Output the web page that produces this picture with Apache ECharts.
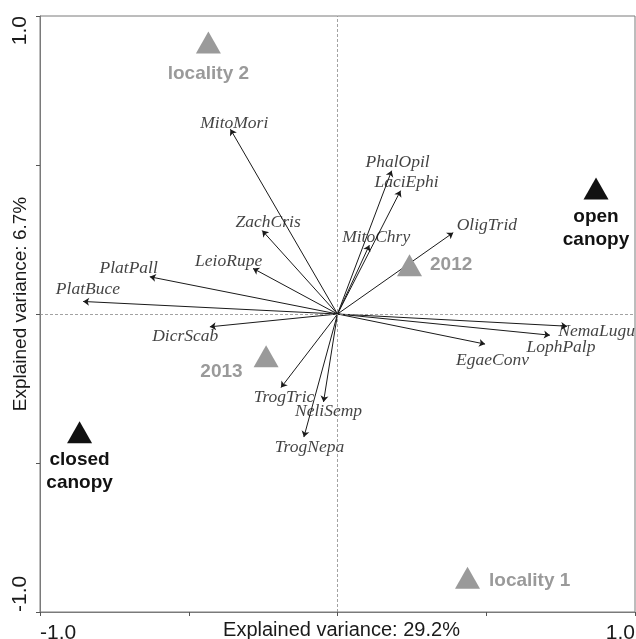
<!DOCTYPE html>
<html>
<head>
<meta charset="utf-8">
<script src="https://cdn.jsdelivr.net/npm/echarts@6/dist/echarts.min.js"></script>
<style>
  html, body { margin: 0; padding: 0; background: #fff; }
  #chart { width: 636px; height: 639px; }
</style>
</head>
<body>
<div id="chart"></div>
<script>
// Species response arrows (RDA biplot scores, axis 1 / axis 2)
const speciesNames = ['MitoMori', 'ZachCris', 'LeioRupe', 'PlatPall', 'PlatBuce', 'DicrScab',
  'PhalOpil', 'LaciEphi', 'MitoChry', 'OligTrid', 'NemaLugu', 'LophPalp', 'EgaeConv',
  'TrogTric', 'NeliSemp', 'TrogNepa'];
const arrowX = [-0.360, -0.253, -0.284, -0.631, -0.855, -0.429, 0.182, 0.212, 0.107, 0.389,
  0.772, 0.714, 0.496, -0.190, -0.047, -0.113];
const arrowY = [0.620, 0.280, 0.153, 0.125, 0.042, -0.043, 0.481, 0.414, 0.231, 0.273,
  -0.041, -0.071, -0.101, -0.247, -0.295, -0.413];
// Text positions for the species names
const labelX = [-0.347, -0.233, -0.366, -0.702, -0.839, -0.512, 0.202, 0.232, 0.130, 0.502,
  0.871, 0.751, 0.521, -0.180, -0.030, -0.094];
const labelY = [0.641, 0.309, 0.177, 0.154, 0.083, -0.075, 0.510, 0.440, 0.258, 0.298,
  -0.058, -0.112, -0.155, -0.280, -0.327, -0.448];

// Centroids of the explanatory factor levels
const centroidNames = ['locality 2', 'open canopy', '2012', '2013', 'closed canopy', 'locality 1'];
const centroidX = [-0.434, 0.869, 0.242, -0.240, -0.867, 0.437];
const centroidY = [0.911, 0.421, 0.164, -0.142, -0.397, -0.885];
const centroidFactor = ['locality', 'canopy', 'year', 'year', 'canopy', 'locality'];

// Axes
const axisTicks = [-1, -0.5, 0, 0.5, 1];
const xTickLabels = { '-1': '-1.0', '1': '1.0' };
const yTickLabels = { '-1': '-1.0', '1': '1.0' };
const xTitle = 'Explained variance: 29.2%';
const yTitle = 'Explained variance: 6.7%';

const GREY = '#9a9a9a';
const DARK = '#111111';
const factorColor = { canopy: DARK, locality: GREY, year: GREY };

const centroidLabel = {
  'locality 2':    { position: 'bottom', distance: 9, align: 'center' },
  'open canopy':   { position: 'bottom', distance: 6, align: 'center' },
  '2012':          { position: 'right',  distance: 8 },
  '2013':          { position: 'left',   distance: 11, offset: [0, 15] },
  'closed canopy': { position: 'bottom', distance: 5, align: 'center' },
  'locality 1':    { position: 'right',  distance: 9, offset: [0, 3] }
};

const chart = echarts.init(document.getElementById('chart'), null, { renderer: 'canvas' });

const axisCommon = {
  type: 'value',
  min: axisTicks[0],
  max: axisTicks[axisTicks.length - 1],
  interval: 0.5,
  splitLine: { show: false },
  axisLine: { show: true, onZero: false, lineStyle: { color: '#7a7a7a', width: 1 } },
  axisTick: { show: true, inside: false, length: 4, lineStyle: { color: '#555', width: 1 } },
  nameLocation: 'middle',
  nameMoveOverlap: false
};

const option = {
  animation: false,
  backgroundColor: '#ffffff',
  grid: {
    left: 40, right: 1, top: 16, bottom: 27,
    containLabel: false,
    outerBoundsMode: 'none',
    show: true, borderColor: '#7a7a7a', borderWidth: 1, backgroundColor: 'transparent'
  },
  xAxis: Object.assign({}, axisCommon, {
    name: xTitle,
    nameGap: 8,
    nameTextStyle: { fontFamily: 'Liberation Sans, Arial', fontSize: 20, color: '#1a1a1a',
      padding: [0, 0, 0, 8], verticalAlign: 'top' },
    axisLabel: {
      show: true, margin: 11,
      fontFamily: 'Liberation Sans, Arial', fontSize: 21, color: '#1a1a1a',
      alignMinLabel: 'left', alignMaxLabel: 'right',
      formatter: v => xTickLabels[String(v)] || ''
    }
  }),
  yAxis: Object.assign({}, axisCommon, {
    name: yTitle,
    nameGap: 10,
    nameRotate: 90,
    nameTextStyle: { fontFamily: 'Liberation Sans, Arial', fontSize: 19, color: '#1a1a1a',
      padding: [0, 0, 0, 20] },
    axisLabel: {
      show: true, margin: 9, rotate: 90,
      fontFamily: 'Liberation Sans, Arial', fontSize: 21, color: '#1a1a1a',
      alignMinLabel: 'left', alignMaxLabel: 'right',
      formatter: v => yTickLabels[String(v)] || ''
    }
  }),
  series: [
    {
      // zero reference lines
      type: 'scatter',
      data: [],
      silent: true,
      markLine: {
        silent: true,
        symbol: ['none', 'none'],
        label: { show: false },
        lineStyle: { color: '#8a8a8a', width: 0.8, type: [3, 2] },
        data: [{ xAxis: 0 }, { yAxis: 0 }]
      }
    },
    {
      // species arrows from the origin
      type: 'lines',
      coordinateSystem: 'cartesian2d',
      silent: true,
      symbol: ['none', 'arrow'],
      symbolSize: 6,
      lineStyle: { color: '#1a1a1a', width: 1, opacity: 1 },
      data: speciesNames.map((n, i) => ({ name: n, coords: [[0, 0], [arrowX[i], arrowY[i]]] }))
    },
    {
      // species names
      type: 'scatter',
      silent: true,
      symbolSize: 0,
      data: speciesNames.map((n, i) => ({ name: n, value: [labelX[i], labelY[i]] })),
      label: {
        show: true,
        position: 'inside',
        formatter: p => p.name,
        fontFamily: 'Liberation Serif, Times New Roman, serif',
        fontStyle: 'italic',
        fontSize: 17.5,
        color: '#111'
      }
    },
    {
      // factor centroids
      type: 'scatter',
      silent: true,
      symbol: 'triangle',
      symbolSize: [25, 22],
      data: centroidNames.map((n, i) => {
        const c = factorColor[centroidFactor[i]];
        const lab = centroidLabel[n];
        return {
          name: n,
          value: [centroidX[i], centroidY[i]],
          itemStyle: { color: c, opacity: 1 },
          label: Object.assign({
            show: true,
            color: c,
            fontFamily: 'Liberation Sans, Arial',
            fontWeight: 'bold',
            fontSize: 19,
            lineHeight: 23,
            formatter: p => p.name.replace(' canopy', '\ncanopy')
          }, lab)
        };
      })
    }
  ]
};

chart.setOption(option);
</script>
</body>
</html>
